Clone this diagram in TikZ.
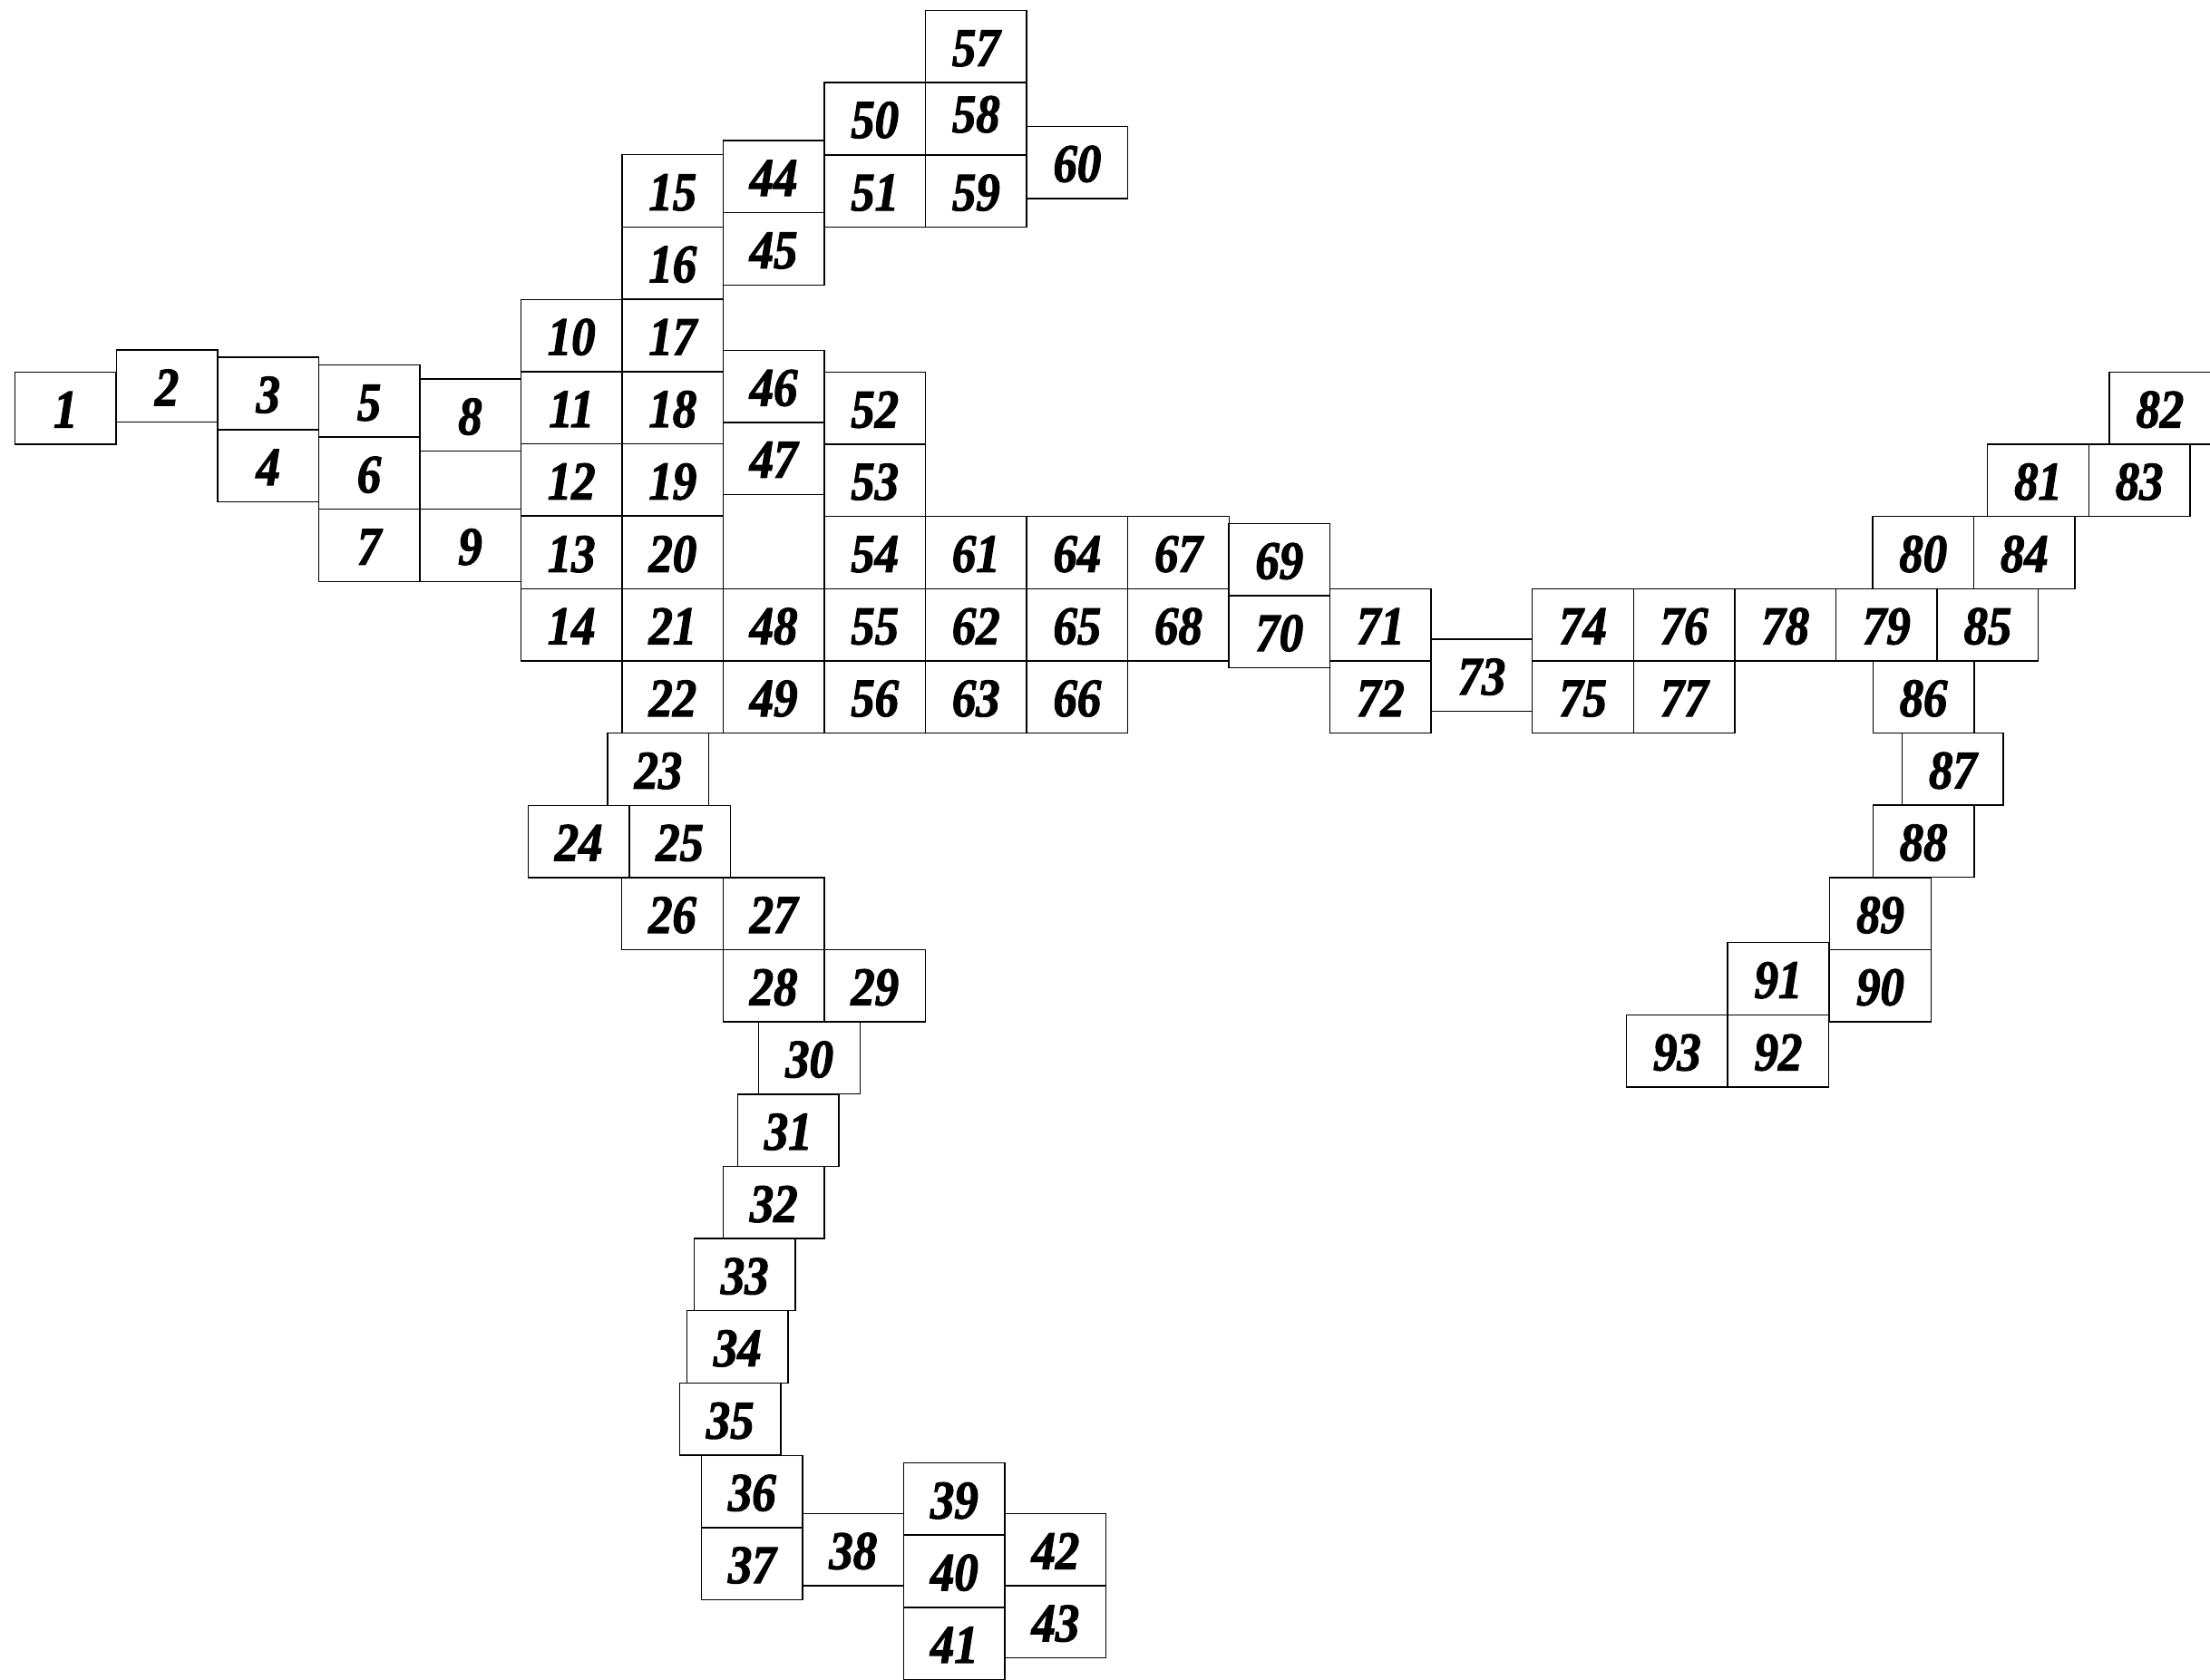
\documentclass[tikz,border=0pt]{standalone}
\usepackage{fontspec}
\newfontfamily\numfont[FakeStretch=0.88,FakeBold=2]{Liberation Serif}
\begin{document}
\begin{tikzpicture}[x=1pt,y=-1pt,
  box/.style={draw, line width=0.9pt, minimum width=71.8pt, minimum height=51.2pt,
    inner sep=0pt, text height=27.4pt, text depth=0pt,
    font=\numfont\bfseries\itshape\fontsize{38.5}{38.5}\selectfont},
  boxup/.style={box, text height=19.4pt}]
\useasboundingbox (0,0) rectangle (1568,1192);
\foreach \n/\x/\y in {
 1/10.6/264, 2/82.5/248.4, 3/154.4/253.5, 4/154.4/305, 5/226/259, 6/226/310.2, 7/226/361.4,
 8/297.7/269, 9/297.7/361.4,
 10/369.6/212.5, 11/369.6/263.7, 12/369.6/315, 13/369.6/366.5, 14/369.6/417.8,
 15/441.4/109.8, 16/441.4/161, 17/441.4/212.5, 18/441.4/263.7, 19/441.4/315, 20/441.4/366.5,
 21/441.4/417.8, 22/441.4/469,
 23/431.2/520.3, 24/374.7/571.5, 25/446.4/571.5, 26/441.2/622.7, 27/513/622.7,
 28/513/674, 29/584.8/674, 30/538.4/725.2, 31/523.4/776.5, 32/513.1/827.8,
 33/492.5/879, 34/487.4/930.2, 35/482.2/981.5, 36/497.7/1032.8, 37/497.7/1084.1,
 38/569.4/1074.1, 39/641.2/1038.2, 40/641.2/1089.4, 41/641.2/1140.7,
 42/713/1074.2, 43/713/1125.4,
 44/513/99.7, 45/513/151, 46/513/248.6, 47/513/299.6, 48/513/417.8, 49/513/469,
 50/584.8/58.5, 51/584.8/110, 52/584.8/264, 53/584.8/315.2, 54/584.8/366.5,
 55/584.8/417.8, 56/584.8/469,
 57/656.6/7.5, 59/656.6/110, 60/728.4/89.7,
 61/656.6/366.5, 62/656.6/417.8, 63/656.6/469,
 64/728.4/366.5, 65/728.4/417.8, 66/728.4/469,
 67/800.2/366.5, 68/800.2/417.8, 69/871.8/371.5, 70/871.8/422.7,
 71/943.6/417.8, 72/943.6/469, 73/1015.4/453.6,
 74/1087.2/417.8, 75/1087.2/469, 76/1159/417.8, 77/1159/469,
 78/1230.8/417.8, 79/1302.6/417.8, 80/1328.6/366.5, 81/1410.2/315.2,
 82/1496.6/264, 83/1482/315.2, 84/1400.4/366.5, 85/1374.4/417.8,
 86/1328.8/469, 87/1349.6/520.2, 88/1328.8/571.4, 89/1298.2/622.7, 90/1298.2/674,
 91/1225.8/668.9, 92/1225.8/720.2, 93/1154/720.2}
  \node[box] (b\n) at (\x+35.9,\y+25.6) {\n};
\node[boxup] (b58) at (656.6+35.9,58.5+25.6) {58};
\end{tikzpicture}
\end{document}
